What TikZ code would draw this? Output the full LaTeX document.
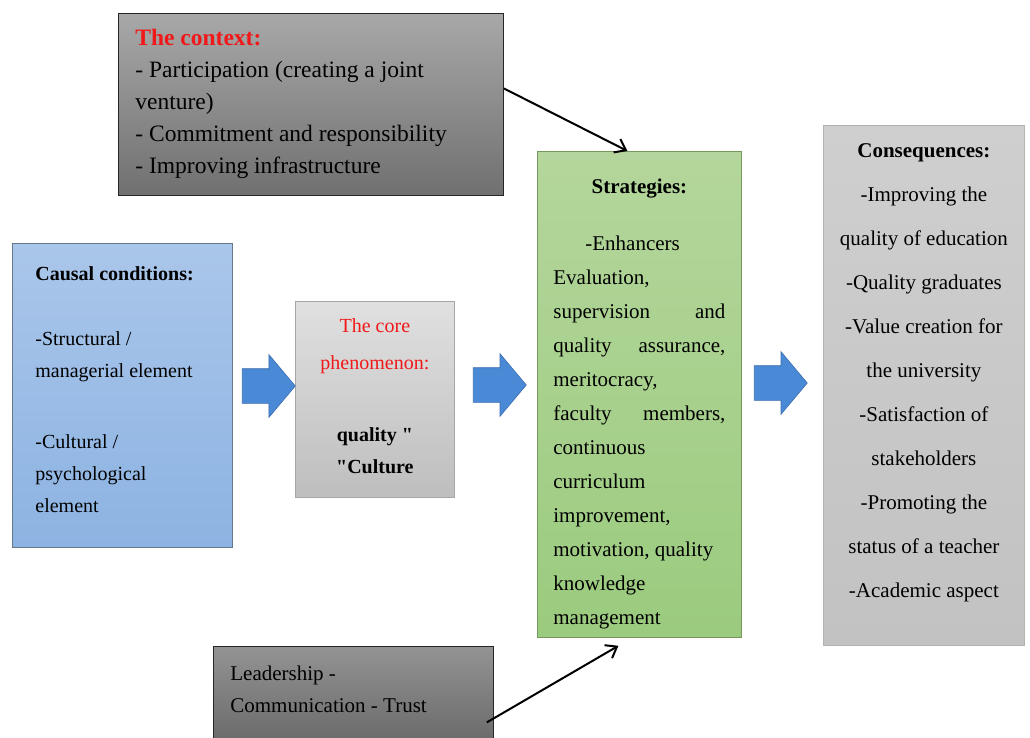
\documentclass[tikz,border=0pt]{standalone}
\usepackage{fontspec}
\setmainfont{Liberation Serif}
\newfontfamily\plainq{Liberation Serif}[Ligatures=TeXOff]
\usetikzlibrary{shapes.arrows,arrows.meta}

\definecolor{ctxtop}{HTML}{A8A8A8}
\definecolor{ctxbot}{HTML}{707070}
\definecolor{caustop}{HTML}{AAC6EA}
\definecolor{causbot}{HTML}{8CB3E2}
\definecolor{coretop}{HTML}{E0E0E0}
\definecolor{corebot}{HTML}{BEBEBE}
\definecolor{strattop}{HTML}{B4D69C}
\definecolor{stratbot}{HTML}{9BCB7E}
\definecolor{constop}{HTML}{CFCFCF}
\definecolor{consbot}{HTML}{C2C2C2}
\definecolor{leadtop}{HTML}{939393}
\definecolor{leadbot}{HTML}{6C6C6C}
\definecolor{arrfill}{HTML}{4A89D5}
\definecolor{arredge}{HTML}{3B6DB0}
\definecolor{titlered}{HTML}{F01818}

\tikzset{
  panel/.style={draw=#1, rectangle, anchor=north west, line width=0.8pt},
  blockarr/.style={single arrow, draw=arredge, fill=arrfill, line width=0.6pt,
    minimum height=53pt, inner xsep=0pt, inner ysep=17pt, single arrow head extend=14pt,
    single arrow tip angle=100},
  conn/.style={-{Straight Barb[length=10pt,width=15pt]}, line width=2pt}
}

\begin{document}
\begin{tikzpicture}[x=1pt,y=-1pt]
  \useasboundingbox (0,0) rectangle (1030,738);

  \node[panel=black!85, top color=ctxtop, bottom color=ctxbot, inner xsep=17pt, inner ysep=16pt,
        font=\fontsize{23.5}{32}\selectfont] (context) at (118,13)
    {\parbox[c][150pt][t]{351pt}{\raggedright\textcolor{titlered}{\textbf{The context:}}\\
      - Participation (creating a joint\\venture)\\- Commitment and responsibility\\
      - Improving infrastructure}};

  \node[panel=caustop!60!black, top color=caustop, bottom color=causbot, inner xsep=23pt, inner ysep=23pt,
        font=\fontsize{20}{32}\selectfont] (causal) at (12,243)
    {\parbox[c][258pt][t]{174pt}{\raggedright\textbf{Causal conditions:}\\[33pt]
      -Structural /\\managerial element\\[39pt]-Cultural /\\psychological\\element}};

  \node[panel=black!35, top color=coretop, bottom color=corebot, inner xsep=8pt, inner ysep=17pt,
        font=\fontsize{20}{32}\selectfont] (core) at (295,301)
    {\parbox[c][162pt][t]{143pt}{\centering{\color{titlered}The core\\[5pt]phenomenon:}\\[40pt]
      \textbf{quality {\plainq"}}\\\textbf{{\plainq"}Culture}}};

  \node[panel=stratbot!75!black, top color=strattop, bottom color=stratbot, inner xsep=16pt, inner ysep=27.5pt,
        font=\fontsize{21}{34}\selectfont] (strategies) at (537,151)
    {\parbox[c][431pt][t]{172pt}{\makebox[172pt]{\textbf{Strategies:}}\\[23pt]
      \hspace*{32pt}-Enhancers\\
      Evaluation,\\
      supervision\hfill and\\
      quality\hfill assurance,\\
      meritocracy,\\
      faculty\hfill members,\\
      continuous\\
      curriculum\\
      improvement,\\
      motivation, quality\\
      knowledge\\
      management}};

  \node[panel=black!30, top color=constop, bottom color=consbot, inner xsep=4pt, inner ysep=18.5pt,
        font=\fontsize{21}{44}\selectfont] (conseq) at (823,125)
    {\parbox[c][483pt][t]{193pt}{\centering\textbf{Consequences:}\\-Improving the\\quality of education\\
      -Quality graduates\\-Value creation for\\the university\\-Satisfaction of\\stakeholders\\
      -Promoting the\\status of a teacher\\-Academic aspect}};

  \node[panel=black!85, top color=leadtop, bottom color=leadbot, inner xsep=17pt, inner ysep=20pt,
        font=\fontsize{21}{32}\selectfont] (lead) at (213,646)
    {\parbox[c][52pt][t]{246pt}{\raggedright Leadership -\\Communication - Trust}};

  \node[blockarr] (arrA) at (261.5,386) {};
  \node[blockarr] (arrB) at (492.5,385) {};
  \node[blockarr] (arrC) at (773.5,383) {};

  \draw[conn] ([yshift=16pt]context.east) -- ([xshift=-12pt]strategies.north);
  \draw[conn] ([shift={(-7pt,-30pt)}]lead.east) -- ([shift={(-21pt,-8pt)}]strategies.south);
\end{tikzpicture}
\end{document}
